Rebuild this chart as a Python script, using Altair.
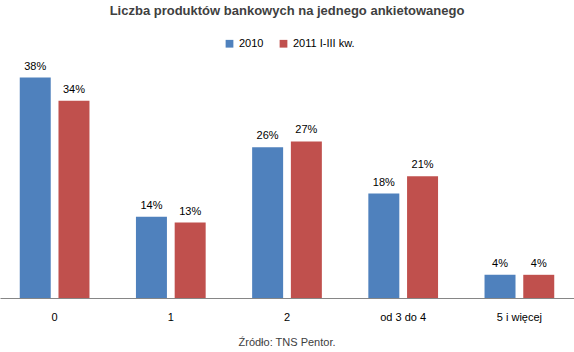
import altair as alt
import pandas as pd

categories = ["0", "1", "2", "od 3 do 4", "5 i więcej"]
series = ["2010", "2011 I-III kw."]
values_2010 = [38, 14, 26, 18, 4]
values_2011 = [34, 13, 27, 21, 4]
colors = ["#4F81BD", "#C0504D"]
source_text = "Źródło: TNS Pentor."

rows = []
for c, a, b in zip(categories, values_2010, values_2011):
    rows.append({"kat": c, "seria": series[0], "val": a})
    rows.append({"kat": c, "seria": series[1], "val": b})
df = pd.DataFrame(rows)

FONT = "Liberation Sans"

x = alt.X("kat:N", sort=categories, title=None,
          scale=alt.Scale(paddingInner=0.4, paddingOuter=0.17),
          axis=alt.Axis(labelAngle=0, ticks=False, domainColor="#868686",
                        labelFontSize=11, labelFont=FONT, labelColor="#000000",
                        labelPadding=13))
xo = alt.XOffset("seria:N", sort=series, scale=alt.Scale(paddingInner=0.2))
y = alt.Y("val:Q", title=None, scale=alt.Scale(domain=[0, 40]), axis=None)

bars = alt.Chart(df).mark_bar().encode(
    x=x, xOffset=xo, y=y,
    color=alt.Color("seria:N", sort=series,
                    scale=alt.Scale(domain=series, range=colors),
                    legend=alt.Legend(title=None, orient="none", direction="horizontal",
                                      legendX=224, legendY=-28, symbolType="square",
                                      symbolSize=60, symbolStrokeWidth=0,
                                      labelFontSize=11, labelFont=FONT,
                                      labelColor="#000000", columnPadding=14,
                                      labelOffset=4))
)

labels = alt.Chart(df).transform_calculate(
    lab="datum.val + '%'"
).mark_text(baseline="bottom", dy=-6, fontSize=11, font=FONT, color="#000000").encode(
    x=x, xOffset=xo, y=y, text="lab:N"
)

source = alt.Chart(pd.DataFrame({"t": [source_text]})).mark_text(
    fontSize=11, font=FONT, color="#404040", baseline="middle", align="center"
).encode(x=alt.value(287), y=alt.value(277), text="t:N")

chart = alt.layer(bars, labels, source).properties(
    width=574, height=232,
    title=alt.Title("Liczba produktów bankowych na jednego ankietowanego",
                    fontSize=13, font=FONT, fontWeight="bold", color="#404040",
                    anchor="middle", offset=20),
    autosize=alt.AutoSizeParams(type="none"),
    padding={"left": 0, "top": 66, "right": 0, "bottom": 54},
).configure_view(stroke=None)

chart.save("out.html", embed_options={"renderer": "svg", "actions": False})
